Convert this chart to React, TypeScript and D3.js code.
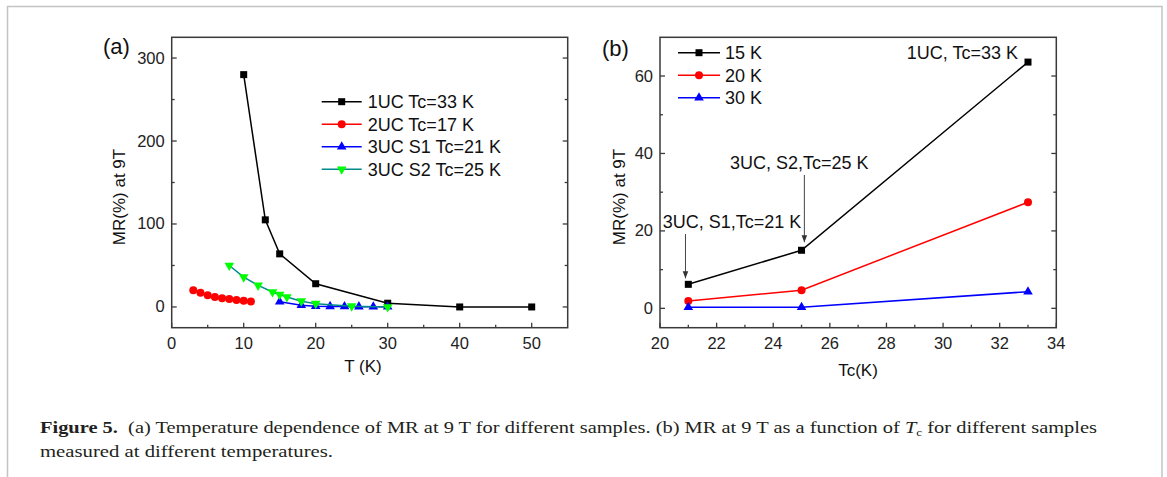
import React from "react";
import * as d3 from "d3";

// ---------- Panel (a) data ----------
const uc1T = [10, 13, 15, 20, 30, 40, 50];
const uc1MR = [280, 105, 64, 28, 4.5, 0, 0];
const uc2T = [3, 4, 5, 6, 7, 8, 9, 10, 11];
const uc2MR = [20, 17, 14, 12, 10.5, 9.5, 8.5, 7.5, 6.5];
const s1T = [15, 18, 20, 22, 24, 26, 28, 30];
const s1MR = [6.2, 2, 1, 0.7, 0.5, 0.4, 0.3, 0.2];
const s2T = [8, 10, 12, 14, 15, 16, 18, 20, 25, 30];
const s2MR = [50, 36, 26, 18, 15, 12, 7, 4, 1, 0];
const legendA = ["1UC Tc=33 K", "2UC Tc=17 K", "3UC S1 Tc=21 K", "3UC S2 Tc=25 K"];
const xTicksA = [0, 10, 20, 30, 40, 50];
const yTicksA = [0, 100, 200, 300];

// ---------- Panel (b) data ----------
const tcVals = [21, 25, 33];
const mr15K = [6.2, 15.0, 63.6];
const mr20K = [1.9, 4.7, 27.4];
const mr30K = [0.3, 0.3, 4.3];
const legendB = ["15 K", "20 K", "30 K"];
const xTicksB = [20, 22, 24, 26, 28, 30, 32, 34];
const yTicksB = [0, 20, 40, 60];
const annoB = ["1UC, Tc=33 K", "3UC, S2,Tc=25 K", "3UC, S1,Tc=21 K"];

const AX = "#3a3a3a";
const SANS = "'Liberation Sans', Arial, sans-serif";
const SERIF = "'Liberation Serif', 'Times New Roman', serif";

type Shape = "square" | "circle" | "up" | "down";

function Marker({ x, y, shape, fill }: { x: number; y: number; shape: Shape; fill: string }) {
  if (shape === "square") return <rect x={x - 3.5} y={y - 3.5} width={7} height={7} fill={fill} />;
  if (shape === "circle") return <circle cx={x} cy={y} r={4} fill={fill} />;
  const sym = d3.symbol().type(d3.symbolTriangle).size(40)();
  return <path d={sym || ""} transform={`translate(${x},${y})${shape === "down" ? " rotate(180)" : ""}`} fill={fill} />;
}

function Series({ xs, ys, x, y, line, fill, shape }: any) {
  const pts = xs.map((v: number, i: number) => [x(v), y(ys[i])] as [number, number]);
  const path = d3.line()(pts) || "";
  return (
    <g>
      <path d={path} fill="none" stroke={line} strokeWidth={1.5} />
      {pts.map((p: [number, number], i: number) => (
        <Marker key={i} x={p[0]} y={p[1]} shape={shape} fill={fill} />
      ))}
    </g>
  );
}

function Frame({ x, y, xTicks, xMinor, yTicks, yMinor }: any) {
  const [x0, x1] = x.range();
  const [y0, y1] = y.range();
  return (
    <g>
      <rect x={x0} y={y1} width={x1 - x0} height={y0 - y1} fill="none" stroke={AX} strokeWidth={1.5} />
      {xTicks.map((t: number) => (
        <g key={"xt" + t}>
          <line x1={x(t)} x2={x(t)} y1={y0} y2={y0 - 5} stroke={AX} strokeWidth={1.3} />
          <text x={x(t)} y={348.5} textAnchor="middle" fontSize={16.5} fontFamily={SANS} fill="#222">{t}</text>
        </g>
      ))}
      {xMinor.map((t: number) => (
        <line key={"xm" + t} x1={x(t)} x2={x(t)} y1={y0} y2={y0 - 3} stroke={AX} strokeWidth={1.3} />
      ))}
      {yTicks.map((t: number) => (
        <g key={"yt" + t}>
          <line x1={x0} x2={x0 + 5} y1={y(t)} y2={y(t)} stroke={AX} strokeWidth={1.3} />
          <line x1={x1} x2={x1 - 5} y1={y(t)} y2={y(t)} stroke={AX} strokeWidth={1.3} />
          <text x={x0 - 7} y={y(t) + 5.5} textAnchor="end" fontSize={16.5} fontFamily={SANS} fill="#222">{t}</text>
        </g>
      ))}
      {yMinor.map((t: number) => (
        <g key={"ym" + t}>
          <line x1={x0} x2={x0 + 3} y1={y(t)} y2={y(t)} stroke={AX} strokeWidth={1.3} />
          <line x1={x1} x2={x1 - 3} y1={y(t)} y2={y(t)} stroke={AX} strokeWidth={1.3} />
        </g>
      ))}
    </g>
  );
}

export default function App() {
  const xA = d3.scaleLinear().domain([0, 55]).range([171.7, 567.7]);
  const yA = d3.scaleLinear().domain([-25, 325]).range([327.7, 37.3]);
  const xB = d3.scaleLinear().domain([20, 34]).range([660, 1056.3]);
  const yB = d3.scaleLinear().domain([-5, 70]).range([327.7, 37.3]);

  const seriesA = [
    { xs: uc1T, ys: uc1MR, line: "#000", fill: "#000", shape: "square" as Shape },
    { xs: uc2T, ys: uc2MR, line: "#ff0000", fill: "#ff0000", shape: "circle" as Shape },
    { xs: s1T, ys: s1MR, line: "#0000ff", fill: "#0000ff", shape: "up" as Shape },
    { xs: s2T, ys: s2MR, line: "#008b8b", fill: "#00ff00", shape: "down" as Shape },
  ];
  const seriesB = [
    { xs: tcVals, ys: mr15K, line: "#000", fill: "#000", shape: "square" as Shape },
    { xs: tcVals, ys: mr20K, line: "#ff0000", fill: "#ff0000", shape: "circle" as Shape },
    { xs: tcVals, ys: mr30K, line: "#0000ff", fill: "#0000ff", shape: "up" as Shape },
  ];
  const minorA = d3.range(5, 55, 10);
  const minorAy = [50, 150, 250];
  const minorBx = d3.range(21, 34, 2);
  const minorBy = [10, 30, 50];

  return (
    <svg width={1167} height={477} style={{ position: "absolute", left: 0, top: 0, background: "#fff" }}>
      <defs>
        <marker id="arr" viewBox="0 0 10 10" refX={10} refY={5} markerWidth={7} markerHeight={7} orient="auto" markerUnits="userSpaceOnUse">
          <path d="M0,1 L10,5 L0,9 Z" fill="#333" />
        </marker>
      </defs>
      <rect x={0} y={0} width={1167} height={477} fill="#fff" />
      {/* page frame */}
      <path d="M7.5,477 L7.5,6.5 L1162,6.5 L1162,477" fill="none" stroke="#c4c4c4" strokeWidth={1.5} />

      {/* Panel (a) */}
      <Frame x={xA} y={yA} xTicks={xTicksA} xMinor={minorA} yTicks={yTicksA} yMinor={minorAy} />
      {seriesA.map((s, i) => (
        <Series key={i} {...s} x={xA} y={yA} />
      ))}
      {legendA.map((lab, i) => {
        const cy = 101.7 + i * 22.5;
        const s = seriesA[i];
        return (
          <g key={lab}>
            <line x1={321.7} x2={361.7} y1={cy} y2={cy} stroke={s.line} strokeWidth={1.5} />
            <Marker x={341.7} y={cy} shape={s.shape} fill={s.fill} />
            <text x={367.7} y={cy + 6.5} fontSize={18} fontFamily={SANS} fill="#111">{lab}</text>
          </g>
        );
      })}
      <text x={103} y={54} fontSize={22} fontFamily={SANS} fill="#111">(a)</text>
      <text transform="translate(125,197) rotate(-90)" textAnchor="middle" fontSize={17} fontFamily={SANS} fill="#111">MR(%) at 9T</text>
      <text x={363} y={371.5} textAnchor="middle" fontSize={17} fontFamily={SANS} fill="#111">T (K)</text>

      {/* Panel (b) */}
      <Frame x={xB} y={yB} xTicks={xTicksB} xMinor={minorBx} yTicks={yTicksB} yMinor={minorBy} />
      {seriesB.map((s, i) => (
        <Series key={i} {...s} x={xB} y={yB} />
      ))}
      {legendB.map((lab, i) => {
        const cy = 52.7 + i * 22.5;
        const s = seriesB[i];
        return (
          <g key={lab}>
            <line x1={678} x2={720} y1={cy} y2={cy} stroke={s.line} strokeWidth={1.5} />
            <Marker x={699} y={cy} shape={s.shape} fill={s.fill} />
            <text x={725} y={cy + 6.5} fontSize={18} fontFamily={SANS} fill="#111">{lab}</text>
          </g>
        );
      })}
      <text x={1018} y={59.3} textAnchor="end" fontSize={18} fontFamily={SANS} fill="#111">{annoB[0]}</text>
      <text x={730} y={169.3} fontSize={18} fontFamily={SANS} fill="#111">{annoB[1]}</text>
      <text x={662.7} y={228.3} fontSize={18} fontFamily={SANS} fill="#111">{annoB[2]}</text>
      <line x1={xB(25.1)} x2={xB(25.1)} y1={175} y2={yB(mr15K[1]) - 8} stroke="#444" strokeWidth={1} markerEnd="url(#arr)" />
      <line x1={xB(20.9)} x2={xB(20.9)} y1={234} y2={yB(mr15K[0]) - 6} stroke="#444" strokeWidth={1} markerEnd="url(#arr)" />
      <text x={602} y={56} fontSize={22} fontFamily={SANS} fill="#111">(b)</text>
      <text transform="translate(625,197) rotate(-90)" textAnchor="middle" fontSize={17} fontFamily={SANS} fill="#111">MR(%) at 9T</text>
      <text x={858} y={375.5} textAnchor="middle" fontSize={17} fontFamily={SANS} fill="#111">Tc(K)</text>

      {/* Caption */}
      <text x={40} y={433} fontSize={17} fontFamily={SERIF} fill="#231f20" textLength={1057} lengthAdjust="spacingAndGlyphs">
        <tspan fontWeight="bold">Figure 5.</tspan>
        <tspan>{"\u00a0\u00a0(a) Temperature dependence of MR at 9 T for different samples. (b) MR at 9 T as a function of "}</tspan>
        <tspan fontStyle="italic">T</tspan>
        <tspan fontSize={11} dy={3}>c</tspan>
        <tspan dy={-3}>{" for different samples"}</tspan>
      </text>
      <text x={40} y={457} fontSize={17} fontFamily={SERIF} fill="#231f20" textLength={293} lengthAdjust="spacingAndGlyphs">
        measured at different temperatures.
      </text>
    </svg>
  );
}
